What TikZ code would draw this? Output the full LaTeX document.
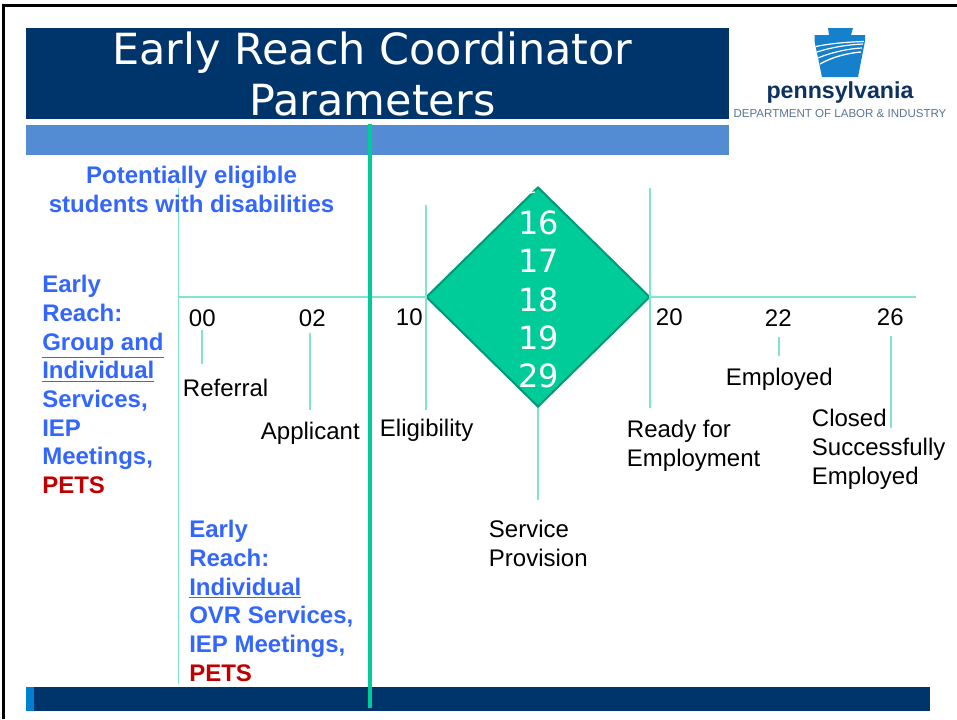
\documentclass[tikz,border=0pt]{standalone}
\usepackage{fontspec}
\setmainfont{Liberation Sans}
\newfontfamily\titlefont{DejaVu Sans}
\usetikzlibrary{shapes.geometric,positioning}
\definecolor{NavyBar}{HTML}{00356B}
\definecolor{MidBar}{HTML}{538CD3}
\definecolor{TipBar}{HTML}{0080D0}
\definecolor{SeaGreen}{HTML}{00CC99}
\definecolor{PaleGreen}{HTML}{7FE5CC}
\definecolor{DarkGreen}{HTML}{009977}
\definecolor{TextBlue}{HTML}{3366FF}
\definecolor{TextRed}{HTML}{C00000}
\definecolor{LogoBlue}{HTML}{1580CC}
\definecolor{LogoNavy}{HTML}{0D3260}
\definecolor{LogoGrey}{HTML}{5A7590}

\begin{document}
\begin{tikzpicture}[x=0.75pt, y=-0.75pt, node distance = 28.7pt]
	\tikzset{BarStyle/.style = {
			shape=rectangle,
			draw=none,
			inner sep=0pt,
			anchor=north west
	}}
	\tikzset{TitleStyle/.style = {
			align=center,
			text=white,
			inner sep=0pt,
			font=\titlefont\fontsize{32.2}{38.3}\selectfont
	}}
	\tikzset{NumberStyle/.style = {
			text=white,
			inner sep=0pt,
			font=\titlefont\fontsize{24}{28}\selectfont
	}}
	\tikzset{PlainStyle/.style = {
			align=left,
			inner sep=0pt,
			anchor=north west,
			font=\fontsize{18}{21.5}\selectfont
	}}
	\tikzset{BlueStyle/.style = {
			PlainStyle,
			text=TextBlue,
			font=\bfseries\fontsize{18}{21.5}\selectfont
	}}
	\tikzset{ThinLine/.style = {
			draw=PaleGreen,
			line width=0.8pt
	}}
	\useasboundingbox (0,0) rectangle (957,719);
	\fill[white] (0,0) rectangle (957,719);

	% frame
	\coordinate (frameA) at (3.5,719);
	\coordinate (frameB) at (3.5,5.5);
	\coordinate (frameC) at (957,5.5);
	\draw[black, line width=2.2pt] (frameA) -- (frameB) -- (frameC);

	% bars
	\node[BarStyle, fill=NavyBar, minimum width=527.25pt, minimum height=68.25pt] (titlebar) at (26,28) {};
	\node[BarStyle, fill=MidBar, minimum width=527.25pt, minimum height=22.5pt] (midbar) at (26,125) {};
	\node[BarStyle, fill=NavyBar, minimum width=678pt, minimum height=18pt] (footbar) at (26,687) {};
	\node[BarStyle, fill=TipBar, minimum width=6pt, minimum height=18pt] (foottip) at (26,687) {};
	\node[TitleStyle] (title) at (372.5,74) {Early Reach Coordinator\\Parameters};

	% logo
	\fill[LogoBlue] (828,28) -- (853,28) -- (851,35) -- (865,35) -- (865,41) -- (858,77) -- (822,77) -- (814.5,41) -- (814.5,35) -- (829,35) -- cycle;
	\draw[white, line width=0.9pt] (816,46.5) .. controls (832,43) and (850,42) .. (864,41.5);
	\draw[white, line width=0.9pt] (817,52) .. controls (832,47) and (850,44.5) .. (863,44);
	\draw[white, line width=0.9pt] (818,58) .. controls (832,52) and (850,48.5) .. (862,48);
	\draw[white, line width=1pt] (820,64) .. controls (832,57) and (848,53) .. (861,52);
	\node[inner sep=0pt, text=LogoNavy, font=\bfseries\fontsize{17.4}{19}\selectfont] (logoname) at (840,92) {pennsylvania};
	\node[inner sep=0pt, text=LogoGrey, font=\fontsize{8.65}{10}\selectfont] (logodept) at (840,114) {DEPARTMENT OF LABOR \& INDUSTRY};

	% axes
	\coordinate (axisL) at (178,297);
	\coordinate (axisR) at (916,297);
	\coordinate (wallT) at (178.5,188);
	\coordinate (wallB) at (178.5,684);
	\coordinate (bigT) at (370,124);
	\coordinate (bigB) at (370,708);
	\node[diamond, fill=SeaGreen, draw=DarkGreen, line width=1.5pt, inner sep=0pt, minimum width=168pt, minimum height=165pt] (gate) at (538,297) {};
	\path [-, ThinLine] (axisL) edge (gate.west);
	\path [-, ThinLine] (gate.east) edge (axisR);
	\path [-, ThinLine] (wallT) edge (wallB);

	% numbers
	\node[NumberStyle] (n16) at (538.5,223) {16};
	\node[NumberStyle, below of=n16] (n17) {17};
	\node[NumberStyle, below of=n17] (n18) {18};
	\node[NumberStyle, below of=n18] (n19) {19};
	\node[NumberStyle, below of=n19] (n29) {29};
	\coordinate (clipA) at (530,193);
	\coordinate (clipB) at (535,192);
	\draw[white, line width=0.9pt] (clipA) -- (clipB);

	% codes and labels
	\node[PlainStyle] (c00) at (188.7,309) {00};
	\node[PlainStyle] (c02) at (298.7,309) {02};
	\node[PlainStyle] (c10) at (395.7,308) {10};
	\node[PlainStyle] (c20) at (655.7,308) {20};
	\node[PlainStyle] (c22) at (764.7,309) {22};
	\node[PlainStyle] (c26) at (876.7,308) {26};
	\node[PlainStyle] (referral) at (182.7,379) {Referral};
	\node[PlainStyle] (applicant) at (260.7,422) {Applicant};
	\node[PlainStyle] (eligibility) at (379.7,419) {Eligibility};
	\node[PlainStyle] (ready) at (626.7,420) {Ready for\\Employment};
	\node[PlainStyle] (service) at (488.7,520) {Service\\Provision};
	\node[PlainStyle] (employed) at (725.7,368) {Employed};
	\node[PlainStyle] (closed) at (811.7,409) {Closed\\Successfully\\Employed};

	% ticks
	\coordinate (t00a) at (202,330);
	\coordinate (t00b) at (202,364);
	\coordinate (t02a) at (310,333);
	\coordinate (t02b) at (310,410);
	\coordinate (t10a) at (426,205);
	\coordinate (t10b) at (426,410);
	\coordinate (t20a) at (650,188);
	\coordinate (t20b) at (650,408);
	\coordinate (t22a) at (779,337);
	\coordinate (t22b) at (779,356);
	\coordinate (t26a) at (891,336);
	\coordinate (t26b) at (891,428);
	\coordinate (tServ) at (538,500);
	\path [-, ThinLine] (t00a) edge (t00b);
	\path [-, ThinLine] (t02a) edge (t02b);
	\path [-, ThinLine] (t10a) edge (t10b);
	\path [-, ThinLine] (t20a) edge (t20b);
	\path [-, ThinLine] (t22a) edge (t22b);
	\path [-, ThinLine] (t26a) edge (t26b);
	\path [-, ThinLine] (gate.south) edge (tServ);

	% blue blocks
	\node[BlueStyle, align=center, anchor=north] (eligible) at (191.5,166) {Potentially eligible\\students with disabilities};
	\node[BlueStyle] (groupblock) at (42,275) {Early\\Reach:\\\underline{Group and}\\\underline{Individual}\\Services,\\IEP\\Meetings,\\\textcolor{TextRed}{PETS}};
	\node[BlueStyle] (indivblock) at (189,520) {Early\\Reach:\\\underline{Individual}\\OVR Services,\\IEP Meetings,\\\textcolor{TextRed}{PETS}};

	% thick line over the bars
	\path [-, draw=SeaGreen, line width=3pt] (bigT) edge (bigB);
\end{tikzpicture}
\end{document}
